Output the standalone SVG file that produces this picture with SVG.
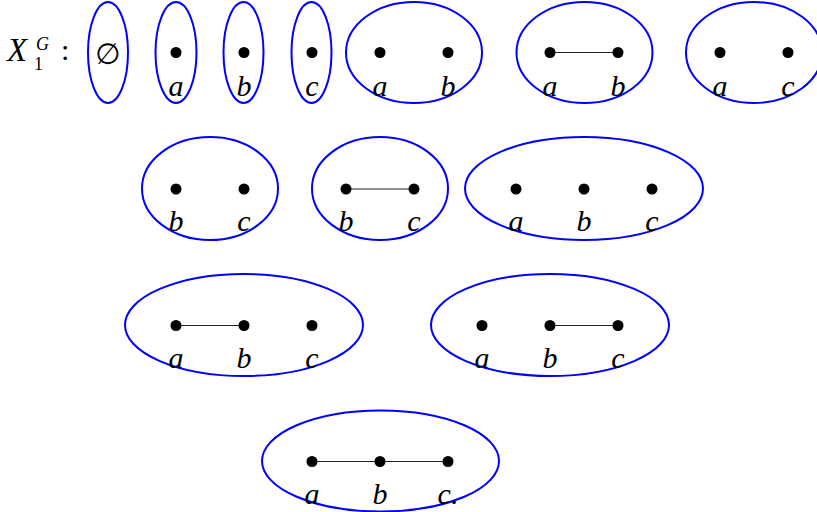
<svg xmlns="http://www.w3.org/2000/svg" width="817" height="512" viewBox="0 0 817 512">
<style>
.el{fill:none;stroke:#0000ff;stroke-width:2}
.dot{fill:#000}
.lbl{font-family:"Liberation Serif","DejaVu Serif",serif;font-style:italic;font-size:30px;fill:#000;text-anchor:middle}
.edge{stroke:#222;stroke-width:1.2;fill:none}
</style>
<rect width="817" height="512" fill="#fff"/>
<g id="title">
<text x="7" y="61" font-family="Liberation Serif, serif" font-style="italic" font-size="33">X</text>
<text x="36" y="50" font-family="Liberation Serif, serif" font-style="italic" font-size="18">G</text>
<text x="34" y="70" font-family="Liberation Serif, serif" font-size="18">1</text>
<text x="61" y="60" font-family="Liberation Serif, serif" font-size="30">:</text>
</g>
<g id="connectors">
<line class="edge" x1="550" y1="52.5" x2="618" y2="52.5"/>
<line class="edge" x1="346" y1="189" x2="414" y2="189"/>
<line class="edge" x1="176" y1="325.5" x2="244" y2="325.5"/>
<line class="edge" x1="550" y1="325.5" x2="618" y2="325.5"/>
<line class="edge" x1="312" y1="461.5" x2="380" y2="461.5"/>
<line class="edge" x1="380" y1="461.5" x2="448" y2="461.5"/>
</g>
<g id="n-empty">
<ellipse class="el" cx="108" cy="52.5" rx="20" ry="50.5"/>
<text x="108" y="64" font-family="DejaVu Sans, sans-serif" font-size="29" text-anchor="middle">∅</text>
</g>
<g id="n-a">
<ellipse class="el" cx="176" cy="52.5" rx="20.5" ry="50.5"/>
<circle class="dot" cx="176" cy="52.5" r="5.5"/>
<text class="lbl" x="176" y="96">a</text>
</g>
<g id="n-b">
<ellipse class="el" cx="243.5" cy="52.5" rx="20" ry="50.5"/>
<circle class="dot" cx="244" cy="52.5" r="5.5"/>
<text class="lbl" x="244" y="96">b</text>
</g>
<g id="n-c">
<ellipse class="el" cx="311.5" cy="52.5" rx="20" ry="50.5"/>
<circle class="dot" cx="312" cy="52.5" r="5.5"/>
<text class="lbl" x="312" y="96">c</text>
</g>
<g id="n-ab">
<ellipse class="el" cx="414" cy="52.5" rx="68" ry="50.5"/>
<circle class="dot" cx="380" cy="52.5" r="5.5"/>
<circle class="dot" cx="448" cy="52.5" r="5.5"/>
<text class="lbl" x="380" y="96">a</text>
<text class="lbl" x="448" y="96">b</text>
</g>
<g id="n-ab-edge">
<ellipse class="el" cx="584.5" cy="52.5" rx="68" ry="50.5"/>
<circle class="dot" cx="550" cy="52.5" r="5.5"/>
<circle class="dot" cx="618" cy="52.5" r="5.5"/>
<text class="lbl" x="550" y="96">a</text>
<text class="lbl" x="618" y="96">b</text>
</g>
<g id="n-ac">
<ellipse class="el" cx="754" cy="52.5" rx="68" ry="50.5"/>
<circle class="dot" cx="720" cy="52.5" r="5.5"/>
<circle class="dot" cx="788" cy="52.5" r="5.5"/>
<text class="lbl" x="720" y="96">a</text>
<text class="lbl" x="788" y="96">c</text>
</g>
<g id="n-bc">
<ellipse class="el" cx="210" cy="188.5" rx="68" ry="51.5"/>
<circle class="dot" cx="176" cy="189" r="5.5"/>
<circle class="dot" cx="244" cy="189" r="5.5"/>
<text class="lbl" x="176" y="231">b</text>
<text class="lbl" x="244" y="231">c</text>
</g>
<g id="n-bc-edge">
<ellipse class="el" cx="380" cy="188.5" rx="68" ry="51.5"/>
<circle class="dot" cx="346" cy="189" r="5.5"/>
<circle class="dot" cx="414" cy="189" r="5.5"/>
<text class="lbl" x="346" y="231">b</text>
<text class="lbl" x="414" y="231">c</text>
</g>
<g id="n-abc">
<ellipse class="el" cx="584" cy="188.5" rx="119" ry="51.5"/>
<circle class="dot" cx="516" cy="189" r="5.5"/>
<circle class="dot" cx="584" cy="189" r="5.5"/>
<circle class="dot" cx="652" cy="189" r="5.5"/>
<text class="lbl" x="516" y="231">a</text>
<text class="lbl" x="584" y="231">b</text>
<text class="lbl" x="652" y="231">c</text>
</g>
<g id="n-ab-c">
<ellipse class="el" cx="244" cy="325" rx="119" ry="51"/>
<circle class="dot" cx="176" cy="325.5" r="5.5"/>
<circle class="dot" cx="244" cy="325.5" r="5.5"/>
<circle class="dot" cx="312" cy="325.5" r="5.5"/>
<text class="lbl" x="176" y="368">a</text>
<text class="lbl" x="244" y="368">b</text>
<text class="lbl" x="312" y="368">c</text>
</g>
<g id="n-a-bc">
<ellipse class="el" cx="550" cy="325" rx="119" ry="51"/>
<circle class="dot" cx="482" cy="325.5" r="5.5"/>
<circle class="dot" cx="550" cy="325.5" r="5.5"/>
<circle class="dot" cx="618" cy="325.5" r="5.5"/>
<text class="lbl" x="482" y="368">a</text>
<text class="lbl" x="550" y="368">b</text>
<text class="lbl" x="618" y="368">c</text>
</g>
<g id="n-abc-path">
<ellipse class="el" cx="380.5" cy="461" rx="118.5" ry="50.5"/>
<circle class="dot" cx="312" cy="461.5" r="5.5"/>
<circle class="dot" cx="380" cy="461.5" r="5.5"/>
<circle class="dot" cx="448" cy="461.5" r="5.5"/>
<text class="lbl" x="312" y="504">a</text>
<text class="lbl" x="380" y="504">b</text>
<text class="lbl" x="448" y="504">c.</text>
</g>
</svg>
